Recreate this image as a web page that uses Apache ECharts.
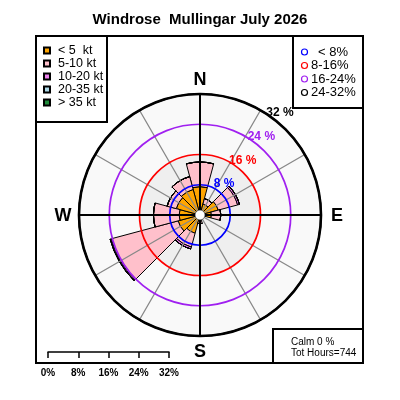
<!DOCTYPE html>
<html><head><meta charset="utf-8">
<script src="https://cdn.jsdelivr.net/npm/echarts@6/dist/echarts.min.js"></script>
<style>html,body{margin:0;padding:0;background:#fff}#c{width:400px;height:400px}</style>
</head><body><div id="c"></div>
<script>
// ---- data ----
const directions = ['N', '30', '60', 'E', '120', '150', 'S', '210', '240', 'W', '300', '330'];
const speedClasses = ['< 5  kt', '5-10 kt', '10-20 kt', '20-35 kt', '> 35 kt'];
const speedColors = ['#FFA500', '#FFC0CB', '#EE82EE', '#ADD8E6', '#1F8B3A'];
const ktLt5    = [7.5, 3.0, 5.0, 3.0, 0.5, 0.3, 1.5, 5.0, 6.0, 5.5, 6.5, 7.0];
const kt5to10  = [6.5, 1.5, 5.3, 2.5, 0.0, 0.0, 0.8, 3.8, 18.3, 6.8, 2.5, 3.5];
const kt10to20 = [0.0, 0.0, 0.5, 0.0, 0.0, 0.0, 0.0, 0.5, 0.3, 0.0, 0.0, 0.0];
const kt20to35 = [0, 0, 0, 0, 0, 0, 0, 0, 0, 0, 0, 0];
const ktGt35   = [0, 0, 0, 0, 0, 0, 0, 0, 0, 0, 0, 0];
const ringValues = [8, 16, 24, 32];
const ringLabels = ['8 %', '16 %', '24 %', '32 %'];
const ringColors = ['#0000FF', '#FF0000', '#A020F0', '#000000'];
const ringLegend = ['< 8%', '8-16%', '16-24%', '24-32%'];
const scaleTicks = ['0%', '8%', '16%', '24%', '32%'];
const compassLabels = ['N', 'E', 'S', 'W'];
const calmText = 'Calm 0 %';
const hoursText = 'Tot Hours=744';
const titleText = 'Windrose  Mullingar July 2026';

const speedData = [ktLt5, kt5to10, kt10to20, kt20to35, ktGt35];
const FONT = 'Liberation Sans, Arial, Helvetica, sans-serif';
const CX = 200, CY = 215, R = 121;

const chart = echarts.init(document.getElementById('c'), null, {renderer: 'canvas'});

const hiddenAxisParts = {axisLine: {show: false}, axisTick: {show: false}, axisLabel: {show: false}};

const barSeries = speedClasses.map((name, i) => ({
  type: 'bar', name, coordinateSystem: 'polar', polarIndex: 0, stack: 'wind',
  data: speedData[i], barCategoryGap: '0%', z: 2, silent: true,
  itemStyle: {color: speedColors[i], borderColor: '#000', borderWidth: 1}
}));

const compassPos = [[CX, 80], [337, 216], [CX, 352], [63, 216]];
const graphics = [];
compassLabels.forEach((t, i) => graphics.push({
  type: 'text', x: compassPos[i][0], y: compassPos[i][1], z: 21,
  style: {text: t, fill: '#000', font: 'bold 18px ' + FONT, textAlign: 'center', textVerticalAlign: 'middle'}
}));
// legend boxes
graphics.push({type: 'rect', shape: {x: 36, y: 36, width: 71, height: 86}, style: {fill: '#fff', stroke: '#000', lineWidth: 2}, z: 20});
graphics.push({type: 'rect', shape: {x: 293, y: 36, width: 70, height: 72}, style: {fill: '#fff', stroke: '#000', lineWidth: 2}, z: 20});
graphics.push({type: 'rect', shape: {x: 273, y: 329, width: 90, height: 34}, style: {fill: '#fff', stroke: '#000', lineWidth: 2}, z: 20});
ringLegend.forEach((t, i) => {
  const y = 52 + 13.5 * i;
  graphics.push({type: 'circle', shape: {cx: 304.5, cy: y, r: 3}, style: {fill: 'none', stroke: ringColors[i], lineWidth: 1.2}, z: 21});
  graphics.push({type: 'text', x: i === 0 ? 318 : 311, y: y, z: 21,
    style: {text: t, fill: '#000', font: '13px ' + FONT, textAlign: 'left', textVerticalAlign: 'middle'}});
});
graphics.push({type: 'text', x: 291, y: 342, z: 21, style: {text: calmText, fill: '#000', font: '10px ' + FONT, textVerticalAlign: 'middle'}});
graphics.push({type: 'text', x: 291, y: 353, z: 21, style: {text: hoursText, fill: '#000', font: '10px ' + FONT, textVerticalAlign: 'middle'}});
// outer frame
graphics.push({type: 'rect', shape: {x: 36, y: 36, width: 327, height: 327}, style: {fill: 'none', stroke: '#000', lineWidth: 2}, z: 50});

const option = {
  animation: false,
  backgroundColor: '#fff',
  title: {text: titleText, left: 'center', top: 12, padding: 0,
    textStyle: {fontSize: 15, fontWeight: 'bold', fontFamily: FONT, color: '#000'}},
  legend: {
    orient: 'vertical', left: 43, top: 44, padding: 0, itemGap: 0,
    itemWidth: 6, itemHeight: 6, icon: 'rect', selectedMode: false, z: 30,
    data: speedClasses,
    textStyle: {fontSize: 12.5, fontFamily: FONT, color: '#000', lineHeight: 12.8, padding: [0, 0, 0, 3]}
  },
  polar: [
    {center: [CX, CY], radius: R},
    {center: [CX, CY], radius: R},
    {center: [CX, CY], radius: R}
  ],
  angleAxis: [
    Object.assign({polarIndex: 0, type: 'category', data: directions, startAngle: 105, clockwise: true,
      splitLine: {show: false}, splitArea: {show: false}, z: 0}, hiddenAxisParts),
    Object.assign({polarIndex: 1, type: 'value', min: 0, max: 360, interval: 30, startAngle: 90, clockwise: true,
      splitLine: {show: true, lineStyle: {color: '#888', width: 1.3}}, z: 5}, hiddenAxisParts),
    {polarIndex: 2, type: 'value', min: 0, max: 360, interval: 90, startAngle: 90, clockwise: true,
      axisLine: {show: true, lineStyle: {color: '#000', width: 2.6}}, axisTick: {show: false}, axisLabel: {show: false},
      splitLine: {show: true, lineStyle: {color: '#000', width: 2}}, z: 7}
  ],
  radiusAxis: [
    Object.assign({polarIndex: 0, type: 'value', min: 0, max: 32, interval: 8,
      splitLine: {show: false},
      splitArea: {show: true, areaStyle: {color: ['#efefef', '#efefef', '#f9f9f9', '#f9f9f9']}}, z: 0}, hiddenAxisParts),
    Object.assign({polarIndex: 1, type: 'value', min: 0, max: 32, interval: 8,
      splitLine: {show: true, lineStyle: {color: ['rgba(0,0,0,0)'].concat(ringColors), width: 1.7}}, z: 6}, hiddenAxisParts),
    Object.assign({polarIndex: 2, type: 'value', min: 0, max: 32, interval: 8, splitLine: {show: false}, z: 7}, hiddenAxisParts)
  ],
  grid: {left: 48, top: 300, width: 121, height: 52, show: false},
  xAxis: {type: 'value', min: 0, max: 32, interval: 8,
    axisLine: {show: true, lineStyle: {color: '#000', width: 1.5}},
    axisTick: {show: true, length: 6, lineStyle: {color: '#000', width: 1.5}},
    axisLabel: {formatter: v => scaleTicks[Math.round(v / 8)], fontWeight: 'bold', fontSize: 10, fontFamily: FONT, color: '#000', margin: 16},
    splitLine: {show: false}},
  yAxis: {type: 'value', show: false},
  series: barSeries.concat([
    {type: 'scatter', coordinateSystem: 'polar', polarIndex: 1, silent: true, z: 10,
      symbolSize: 1, itemStyle: {color: 'rgba(0,0,0,0)', opacity: 1},
      data: ringValues.map((v, i) => ({value: [v, 38], label: {color: ringColors[i]}})),
      label: {show: true, position: 'inside', offset: [5.5, -7.1], formatter: p => ringLabels[p.dataIndex],
        fontWeight: 'bold', fontSize: 12, fontFamily: FONT, opacity: 1}},
    {type: 'scatter', coordinateSystem: 'polar', polarIndex: 1, silent: true, z: 9,
      symbolSize: 10, itemStyle: {color: '#fff', borderColor: '#222', borderWidth: 0.6, opacity: 1},
      data: [[0, 0]]}
  ]),
  graphic: {elements: graphics}
};
chart.setOption(option);
</script>
</body></html>
